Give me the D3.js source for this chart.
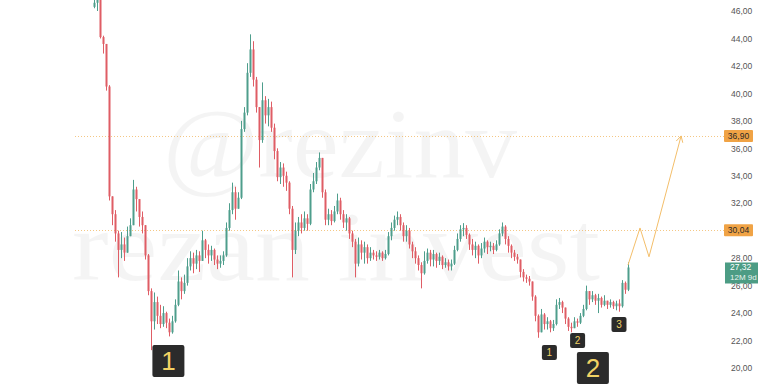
<!DOCTYPE html>
<html><head><meta charset="utf-8">
<script src="https://cdn.jsdelivr.net/npm/d3@7/dist/d3.min.js"></script>
<style>html,body{margin:0;padding:0;background:#fff;}svg{display:block;}</style>
</head><body>
<svg id="chart" width="758" height="390"></svg>
<script>
const closes = [46.6,46.8,44.1,43.6,40.5,32.5,31.2,29.8,28.6,29.0,
28.4,29.6,30.4,33.0,32.3,31.0,30.4,28.2,25.6,23.4,
24.8,23.8,23.2,24.0,23.3,22.6,23.4,24.6,26.3,25.6,
26.2,27.4,28.0,27.6,28.2,27.8,29.3,28.6,28.2,28.6,
27.9,27.6,27.8,28.2,30.2,31.5,32.8,31.6,32.4,37.4,
38.6,41.5,43.2,41.0,39.0,36.6,39.5,38.4,39.0,37.5,
35.8,33.9,34.6,34.0,33.5,31.6,28.6,30.0,30.6,30.2,
30.9,30.5,33.0,33.6,34.6,35.3,32.8,30.8,31.2,30.7,
31.4,32.2,31.2,30.6,30.9,29.8,29.2,27.6,29.0,28.4,
28.8,28.0,28.4,28.2,28.1,28.4,28.0,28.3,29.6,30.2,
30.8,31.0,30.4,29.6,30.0,29.0,28.5,28.0,27.5,26.9,
27.8,28.4,27.9,28.3,27.8,28.1,27.5,27.7,27.4,27.6,
28.6,29.4,30.1,30.2,29.7,29.0,28.6,28.9,28.2,28.7,
29.2,28.8,28.9,28.6,29.0,29.8,30.3,29.4,28.9,28.4,
28.1,27.9,27.0,26.6,26.5,26.3,25.2,23.8,22.6,23.9,
23.2,23.4,22.9,23.2,24.6,24.8,24.4,23.6,23.0,22.9,
23.4,23.3,23.8,24.3,25.6,25.0,25.3,24.9,25.1,24.6,
24.9,24.6,24.8,24.5,24.7,24.5,26.2,25.7,27.32];
const highs = [47.0,47.0,46.9,44.2,43.6,40.6,32.3,31.5,30.0,29.9,
29.5,30.3,30.9,33.7,33.2,32.0,31.4,30.4,28.3,25.8,
25.5,25.2,24.6,24.5,24.1,23.6,23.8,25.0,27.1,26.6,
26.8,28.0,28.5,28.4,28.6,28.5,30.0,29.4,29.0,28.9,
28.7,28.2,28.2,28.5,30.6,32.0,33.5,33.2,32.8,38.0,
39.0,42.2,44.3,43.8,41.2,38.8,40.8,39.8,39.6,39.4,
37.8,36.0,35.0,34.9,34.3,33.6,31.8,30.6,31.0,31.2,
31.4,31.2,33.4,34.2,35.0,35.7,35.2,33.0,31.6,31.5,
31.8,32.7,32.4,31.5,31.2,31.0,30.0,29.4,29.5,29.3,
29.2,29.0,28.8,28.6,28.5,28.6,28.5,28.6,29.9,30.6,
31.1,31.4,31.2,30.6,30.4,30.2,29.2,28.8,28.2,27.7,
28.5,28.7,28.6,28.6,28.4,28.4,28.2,28.0,27.9,27.9,
28.9,29.8,30.4,30.55,30.4,29.8,29.4,29.2,29.0,29.1,
29.5,29.3,29.2,29.1,29.3,30.1,30.6,30.4,29.6,29.0,
28.6,28.3,27.6,27.2,26.8,26.7,26.3,25.3,23.9,24.3,
24.0,23.7,23.5,23.5,25.0,25.1,24.9,24.4,23.7,23.3,
23.7,23.6,24.0,24.6,26.0,25.6,25.6,25.4,25.4,25.2,
25.3,24.9,25.0,24.9,24.9,25.0,26.4,26.3,27.7];
const lows = [46.2,46.0,44.0,42.9,40.2,32.2,30.4,29.2,26.6,28.0,
27.8,28.6,29.8,30.5,31.4,30.3,29.8,27.9,25.3,21.3,
22.8,23.2,22.9,23.0,22.9,22.3,22.5,23.3,24.5,25.0,
25.4,26.0,27.1,26.9,27.2,27.0,27.8,28.0,27.6,27.8,
27.5,27.2,27.3,27.5,28.1,30.0,31.2,30.8,31.7,32.3,
37.2,38.4,41.2,40.5,38.6,34.6,36.4,37.8,37.6,37.2,
35.2,33.6,33.4,33.2,32.9,31.2,26.6,28.3,29.6,29.8,
30.0,30.0,30.4,32.8,33.4,34.4,32.4,30.4,30.4,30.4,
30.6,31.2,30.8,30.2,30.0,29.4,28.8,26.6,27.4,27.9,
27.6,27.6,27.8,27.9,27.8,27.9,27.8,27.9,28.2,29.3,
30.0,30.4,30.0,29.2,29.2,28.7,28.0,27.6,27.1,25.8,
26.8,27.6,27.4,27.4,27.3,27.5,27.2,27.3,27.1,27.1,
27.5,28.5,29.2,29.6,29.4,28.6,28.2,28.0,27.6,28.0,
28.4,28.3,28.5,28.3,28.5,28.9,29.6,29.0,28.4,28.0,
27.8,27.6,26.6,26.3,26.2,26.0,24.9,23.4,22.2,22.6,
22.8,22.8,22.6,22.7,23.1,24.3,24.0,23.2,22.7,22.6,
22.9,23.0,23.2,23.7,24.2,24.6,24.8,24.6,24.0,24.4,
24.5,24.3,24.4,24.3,24.2,24.1,24.4,25.4,25.6];
const firstOpen = 46.3;
// 30,00 is hidden behind the 30,04 level label in the reference
const yTicks = [20,22,24,26,28,32,34,36,38,40,42,44,46];
const levels = [36.90, 30.04];
const lastPrice = 27.32;
const lastLabelSub = "12M 9d";
// projection path: [bar index, price]
const projection = [[178,27.5],[182,30.2],[185,28.1],[195.7,36.9]];
// wave labels: [text, bar index (centre), price (top of box), big?]
const waveLabels = [["1",24.8,21.67,true],["1",151.8,21.67,false],["2",161.2,22.55,false],["3",175,23.71,false],["2",166.3,21.16,true]];
const watermark = ["@rezinv","rezan invest"];

const svg = d3.select("#chart");
const N = closes.length;
const x = d3.scaleLinear().domain([0, N-1]).range([94, 628]);
const y = d3.scaleLinear().domain([20, 46]).range([368, 11]);

// watermark
const wm = svg.append("g").attr("font-family","'Liberation Serif','DejaVu Serif',serif")
  .attr("fill","#000").attr("fill-opacity",0.045);
wm.append("text").attr("x",163).attr("y",177).attr("font-size",100)
  .attr("textLength",354).attr("lengthAdjust","spacingAndGlyphs").text(watermark[0]);
wm.append("text").attr("x",72).attr("y",280).attr("font-size",100)
  .attr("textLength",528).attr("lengthAdjust","spacingAndGlyphs").text(watermark[1]);

// level lines
svg.append("g").selectAll("line").data(levels).join("line")
  .attr("x1",75).attr("x2",724)
  .attr("y1",d=>Math.round(y(d))+0.5).attr("y2",d=>Math.round(y(d))+0.5)
  .attr("stroke","#f0b45c").attr("stroke-width",1).attr("stroke-dasharray","1,2").attr("stroke-opacity",0.75);

// candles
const data = closes.map((c,i)=>({i, o: i===0?firstOpen:closes[i-1], c, h: highs[i], l: lows[i]}));
const up = "#4e9e8c", dn = "#df5d65";
const cg = svg.append("g");
cg.selectAll("line").data(data).join("line")
  .attr("x1",d=>Math.round(x(d.i))+0.5).attr("x2",d=>Math.round(x(d.i))+0.5)
  .attr("y1",d=>y(Math.max(d.h,d.o,d.c))).attr("y2",d=>y(Math.min(d.l,d.o,d.c)))
  .attr("stroke",d=>d.c>=d.o?up:dn).attr("stroke-width",1);
cg.selectAll("rect").data(data).join("rect")
  .attr("x",d=>Math.round(x(d.i))-0.5).attr("width",2)
  .attr("y",d=>y(Math.max(d.o,d.c)))
  .attr("height",d=>Math.max(1, Math.abs(y(d.o)-y(d.c))))
  .attr("fill",d=>d.c>=d.o?up:dn);

// projection path
const pc = "#f3be6a";
svg.append("path").datum(projection)
  .attr("d", d3.line().x(d=>x(d[0])).y(d=>y(d[1])))
  .attr("fill","none").attr("stroke",pc).attr("stroke-width",1);
{
  const a = projection[projection.length-2], b = projection[projection.length-1];
  const x1=x(a[0]),y1=y(a[1]),x2=x(b[0]),y2=y(b[1]);
  const ang = Math.atan2(y2-y1,x2-x1), L=7, s=0.5;
  const pts = [[x2-L*Math.cos(ang-s), y2-L*Math.sin(ang-s)],[x2,y2],[x2-L*Math.cos(ang+s), y2-L*Math.sin(ang+s)]];
  svg.append("path").attr("d", d3.line()(pts)).attr("fill","none").attr("stroke",pc).attr("stroke-width",1);
}

// right axis
const fmt = v => d3.format(".2f")(v).replace(".",",");
const ax = svg.append("g").attr("transform","translate(729,0)")
  .call(d3.axisRight(y).tickValues(yTicks).tickFormat(fmt).tickSize(0).tickPadding(2));
ax.select(".domain").remove();
ax.selectAll("text").attr("font-family","'Liberation Sans',Arial,sans-serif").attr("font-size",8.5).attr("fill","#555");

// level labels
const lg = svg.append("g");
levels.forEach(v=>{
  const yy = y(v);
  lg.append("rect").attr("x",724).attr("y",yy-6).attr("width",29).attr("height",12).attr("rx",1).attr("fill","#f0a345");
  lg.append("text").attr("x",738.5).attr("y",yy+3).attr("text-anchor","middle")
    .attr("font-family","'Liberation Sans',Arial,sans-serif").attr("font-size",8.5).attr("fill","#2a2a2a").text(fmt(v));
});
{
  const yy = y(lastPrice);
  lg.append("rect").attr("x",725).attr("y",yy-5).attr("width",33).attr("height",21).attr("fill","#4c9c84");
  lg.append("text").attr("x",730).attr("y",yy+3).attr("font-family","'Liberation Sans',Arial,sans-serif")
    .attr("font-size",8.5).attr("fill","#fff").text(fmt(lastPrice));
  lg.append("text").attr("x",730).attr("y",yy+13).attr("font-family","'Liberation Sans',Arial,sans-serif")
    .attr("font-size",8).attr("fill","#e8f4ef").text(lastLabelSub);
}

// wave labels
const wg = svg.append("g");
waveLabels.forEach(([t,i,p,big])=>{
  const s = big?32:15;
  const cx = x(i), top = y(p);
  wg.append("rect").attr("x",cx-s/2).attr("y",top).attr("width",s).attr("height",s).attr("rx",2).attr("fill","#2b2b2b");
  wg.append("text").attr("x",cx).attr("y",top+s/2).attr("dy","0.36em").attr("text-anchor","middle")
    .attr("font-family","'Liberation Sans',Arial,sans-serif").attr("font-size",big?26:10).attr("fill","#f2d264").text(t);
});
</script>
</body></html>
